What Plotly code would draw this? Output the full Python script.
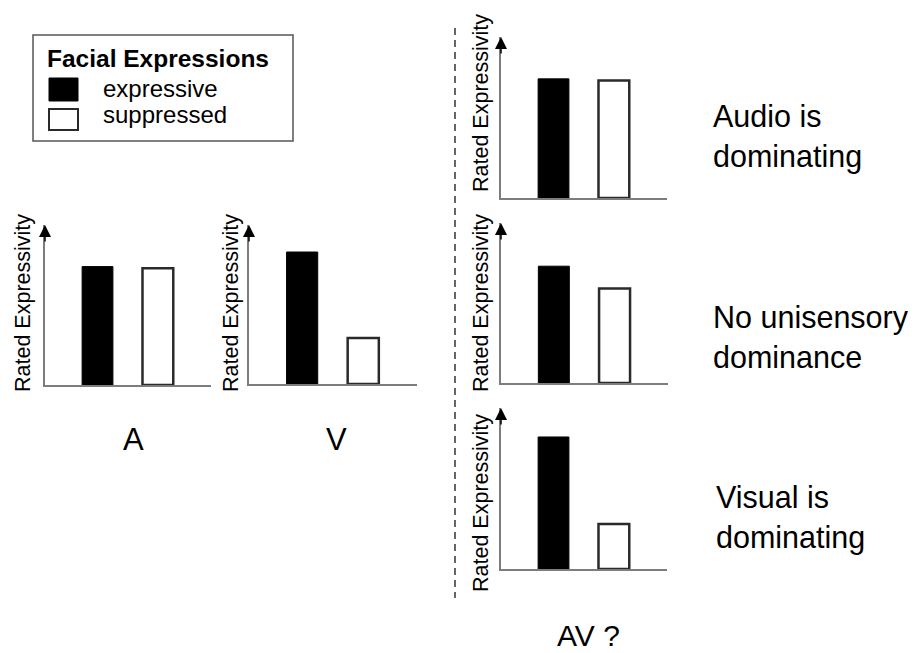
import plotly.graph_objects as go

# values (0 = baseline, 100 = arrow tip)
panel_names = ["A", "V", "AV audio", "AV none", "AV visual"]
expressive = [74, 83, 74, 73, 82]
suppressed = [73, 29, 73, 59, 28]
groups = ["expressive", "suppressed"]
y_title = "Rated Expressivity"
outcomes = ["Audio is<br>dominating", "No unisensory<br>dominance", "Visual is<br>dominating"]

# page body has an 8px margin, so the figure is a bit smaller and offset
OFF = 8
W, H = 923 - OFF, 653 - OFF
FONT = "Liberation Sans, Arial, sans-serif"
AXIS_GREY = "#7d7d7d"


def fx(x):
    return (x - OFF) / W


def fy(y):
    return 1 - (y - OFF) / H


# panel boxes in window pixels: x0, x1, y_tip, y_base
boxes = [
    (45, 211, 225, 385),
    (249, 417, 225, 384),
    (501, 667, 37, 198),
    (501, 668, 223, 383),
    (501, 667, 408, 569),
]

fig = go.Figure()
layout = dict(
    width=W, height=H,
    margin=dict(l=0, r=0, t=0, b=0),
    paper_bgcolor="white", plot_bgcolor="white",
    showlegend=False,
    font=dict(family=FONT, color="black"),
)
annotations = []
shapes = []

for i, name in enumerate(panel_names):
    n = "" if i == 0 else str(i + 1)
    x0, x1, ytip, ybase = boxes[i]
    fig.add_trace(go.Bar(
        x=[1, 2], y=[expressive[i], suppressed[i]],
        name=name, width=0.51,
        marker=dict(color=["black", "white"],
                    line=dict(color=["black", "#2a2a2a"], width=[1, 2.5])),
        xaxis="x" + n, yaxis="y" + n,
        hovertext=groups,
    ))
    layout["xaxis" + n] = dict(
        domain=[fx(x0), fx(x1)], range=[0.13, 2.88],
        showline=True, linecolor=AXIS_GREY, linewidth=1.5,
        showticklabels=False, ticks="", showgrid=False, zeroline=False,
        anchor="y" + n, fixedrange=True,
    )
    layout["yaxis" + n] = dict(
        domain=[fy(ybase), fy(ytip)], range=[0, 100],
        showline=True, linecolor=AXIS_GREY, linewidth=1.5,
        showticklabels=False, ticks="", showgrid=False, zeroline=False,
        anchor="x" + n, fixedrange=True,
    )
    # arrow head on top of the y axis
    annotations.append(dict(
        x=0, y=1, xref="x%s domain" % n, yref="y%s domain" % n,
        text="", showarrow=True, ax=0, ay=18,
        arrowhead=2, arrowsize=1.6, arrowwidth=1.5, arrowcolor="black",
    ))

# rotated axis titles
for cx, cy in [(23, 303), (231, 303), (481, 103), (481, 303), (481, 503)]:
    annotations.append(dict(
        x=fx(cx), y=fy(cy), xref="paper", yref="paper",
        text=y_title, textangle=-90, showarrow=False,
        xanchor="center", yanchor="middle",
        font=dict(size=21.5, family=FONT, color="black"),
    ))

# modality labels
for txt, cx, cy, sz in [("A", 133, 439, 31), ("V", 336, 439, 31), ("AV ?", 588, 635, 30)]:
    annotations.append(dict(
        x=fx(cx), y=fy(cy), xref="paper", yref="paper", text=txt,
        showarrow=False, xanchor="center", yanchor="middle", borderpad=0,
        font=dict(size=sz, family=FONT, color="black"),
    ))

# outcome labels on the right
for txt, lx, cy in zip(outcomes, [712, 712, 715], [137, 337, 517]):
    annotations.append(dict(
        x=fx(lx), y=fy(cy), xref="paper", yref="paper", text=txt,
        showarrow=False, xanchor="left", yanchor="middle", align="left",
        borderpad=0, font=dict(size=30.5, family=FONT, color="black"),
    ))

# dashed separator
shapes.append(dict(type="line", xref="paper", yref="paper",
                   x0=fx(455), x1=fx(455), y0=fy(28), y1=fy(598),
                   line=dict(color="#333333", width=1.5, dash="7px,5px")))

# legend box drawn by hand
shapes.append(dict(type="rect", xref="paper", yref="paper",
                   x0=fx(33), x1=fx(293), y0=fy(141), y1=fy(35),
                   line=dict(color="#555555", width=1.5), fillcolor="white", layer="below"))
shapes.append(dict(type="rect", xref="paper", yref="paper",
                   x0=fx(49), x1=fx(78), y0=fy(101), y1=fy(78),
                   line=dict(color="black", width=1), fillcolor="black"))
shapes.append(dict(type="rect", xref="paper", yref="paper",
                   x0=fx(49), x1=fx(78), y0=fy(130), y1=fy(109),
                   line=dict(color="#2a2a2a", width=2), fillcolor="white"))
annotations.append(dict(
    x=fx(46), y=fy(59), xref="paper", yref="paper", text="<b>Facial Expressions</b>",
    showarrow=False, xanchor="left", yanchor="middle", borderpad=0,
    font=dict(size=24.5, family=FONT, color="black"),
))
for txt, cy in zip(groups, [88, 114]):
    annotations.append(dict(
        x=fx(102), y=fy(cy), xref="paper", yref="paper", text=txt,
        showarrow=False, xanchor="left", yanchor="middle", borderpad=0,
        font=dict(size=24, family=FONT, color="black"),
    ))

layout["annotations"] = annotations
layout["shapes"] = shapes
fig.update_layout(**layout)

fig.write_html("out.html")
